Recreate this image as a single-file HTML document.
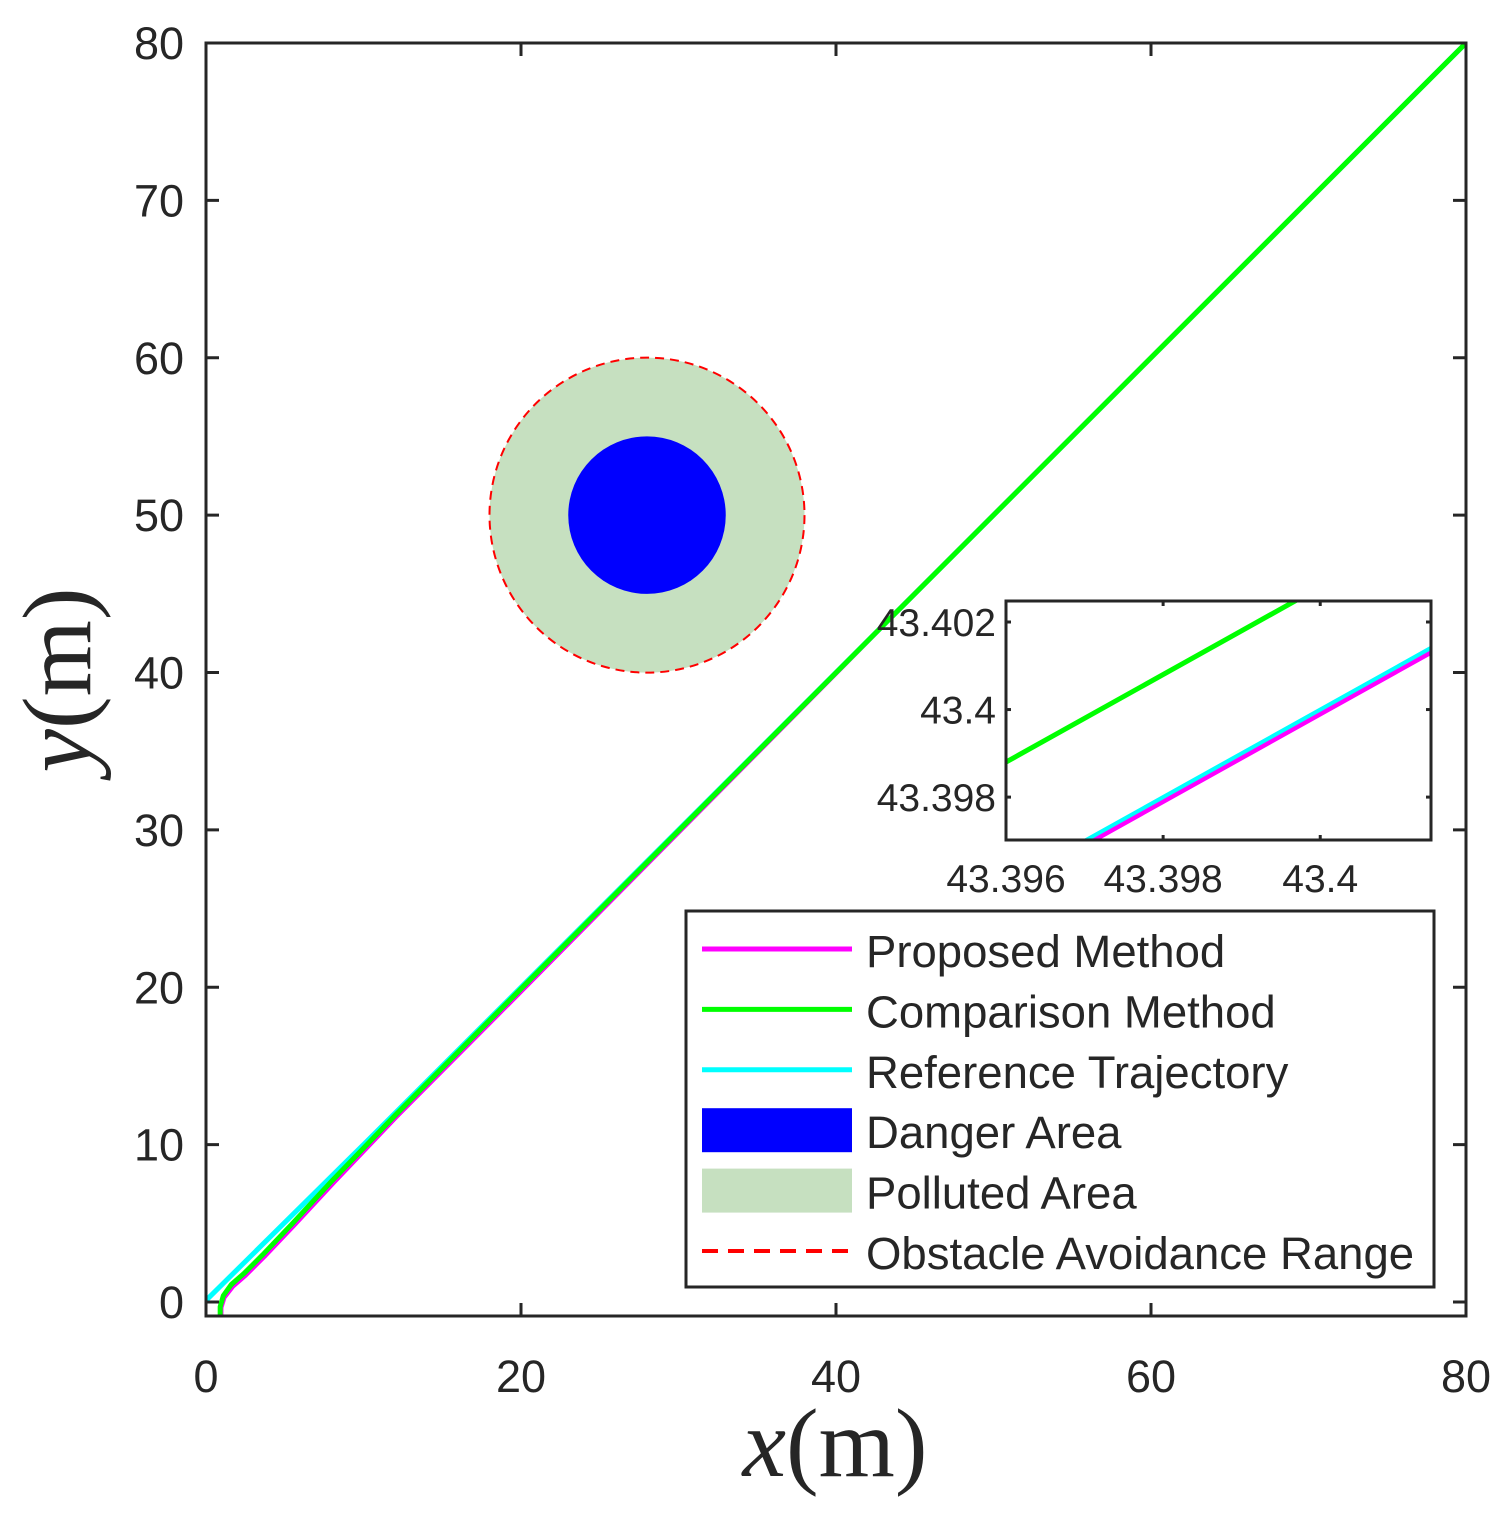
<!DOCTYPE html>
<html><head><meta charset="utf-8"><style>
html,body{margin:0;padding:0;background:#fff;overflow:hidden;width:1504px;height:1516px;}
svg{display:block;}
text{font-family:"Liberation Sans",sans-serif;fill:#262626;}
</style></head><body>
<svg id="chart" width="1504" height="1516" viewBox="0 0 1504 1516" xmlns="http://www.w3.org/2000/svg">
<g id="main"></g>
<g id="inset"></g>
<g id="legend"></g>
</svg>
<script>
const xTicks=[0,20,40,60,80];
const yTicks=[0,10,20,30,40,50,60,70,80];
const obstacleCenter=[28,50];
const pollutedRadius=[10];
const dangerRadius=[5];
const avoidRadius=[10];
const refX=[0,10,43.397,43.4016,80];
const refY=[0.1,10,43.397,43.4016,80];
const compX=[0.9,0.9,1.1,1.6,2.4,3.6,5.5,8,12,20,43.396,43.39968,80];
const compY=[-0.9,-0.3,0.4,1.1,1.8,3.0,5.0,7.7,11.85,19.9,43.3988,43.40248,80];
const propX=[0.95,0.95,1.15,1.7,2.5,3.7,5.6,8.1,12.1,20.1,43.397,43.4016,80];
const propY=[-0.9,-0.35,0.3,1.0,1.7,2.9,4.9,7.6,11.8,19.85,43.3969,43.4015,80];
const insetXTicks=[43.396,43.398,43.4];
const insetYTicks=[43.398,43.4,43.402];
const insetXRange=[43.396,43.40141];
const insetYRange=[43.39702,43.40248];
const legendLabels=["Proposed Method","Comparison Method","Reference Trajectory","Danger Area","Polluted Area","Obstacle Avoidance Range"];

const NS="http://www.w3.org/2000/svg";
function mk(parent,tag,attrs,text){const e=document.createElementNS(NS,tag);for(const k in attrs)e.setAttribute(k,attrs[k]);if(text!==undefined)e.textContent=text;parent.appendChild(e);return e;}
const X0=206,X1=1466,YT=43,YB=1316;
const sx=v=>X0+v*(X1-X0)/80;
const sy=v=>1302-v*(1302-YT)/80;
const main=document.getElementById('main');

const defs=mk(document.getElementById('chart'),'defs',{});
const cp=mk(defs,'clipPath',{id:'mclip'});mk(cp,'rect',{x:X0,y:YT,width:X1-X0,height:YB-YT});
const cp2=mk(defs,'clipPath',{id:'iclip'});mk(cp2,'rect',{x:1006,y:601,width:425,height:239});
const plot=mk(main,'g',{'clip-path':'url(#mclip)'});

let c=mk(plot,'circle',{cx:sx(obstacleCenter[0]),cy:sy(obstacleCenter[1]),r:pollutedRadius[0]*(X1-X0)/80,fill:'#c6e0c0'});


c=mk(plot,'circle',{cx:sx(obstacleCenter[0]),cy:sy(obstacleCenter[1]),r:dangerRadius[0]*(X1-X0)/80,fill:'#0000ff'});


c=mk(plot,'circle',{cx:sx(obstacleCenter[0]),cy:sy(obstacleCenter[1]),r:avoidRadius[0]*(X1-X0)/80,fill:'none',stroke:'#ff0000','stroke-width':2,'stroke-dasharray':'9,6'});



function path(xs,ys,fx,fy){return xs.map((v,i)=>(i?'L':'M')+fx(v).toFixed(2)+' '+fy(ys[i]).toFixed(2)).join(' ');}
let p=mk(plot,'path',{d:path(propX,propY,sx,sy),fill:'none',stroke:'#ff00ff','stroke-width':5,'stroke-linejoin':'round'});


p=mk(plot,'path',{d:path(refX,refY,sx,sy),fill:'none',stroke:'#00ffff','stroke-width':5});


p=mk(plot,'path',{d:path(compX,compY,sx,sy),fill:'none',stroke:'#00ff00','stroke-width':5,'stroke-linejoin':'round'});



let f=mk(main,'rect',{x:X0,y:YT,width:X1-X0,height:YB-YT,fill:'none',stroke:'#262626','stroke-width':3});


xTicks.forEach(v=>{const x=sx(v);
 mk(main,'line',{x1:x,x2:x,y1:YB,y2:YB-13,stroke:'#262626','stroke-width':3});
 mk(main,'line',{x1:x,x2:x,y1:YT,y2:YT+13,stroke:'#262626','stroke-width':3});
 const t=mk(main,'text',{x:x,y:1392,'font-size':45,'text-anchor':'middle'},String(v));
 
 });
yTicks.forEach(v=>{const y=sy(v);
 mk(main,'line',{x1:X0,x2:X0+13,y1:y,y2:y,stroke:'#262626','stroke-width':3});
 mk(main,'line',{x1:X1,x2:X1-13,y1:y,y2:y,stroke:'#262626','stroke-width':3});
 const t=mk(main,'text',{x:184,y:y+16,'font-size':45,'text-anchor':'end'},String(v));
 
 });
let xl=mk(main,'text',{x:835,y:1476,'font-size':98,'text-anchor':'middle','style':'font-family:"Liberation Serif",serif'});
xl.innerHTML='<tspan font-style="italic">x</tspan>(m)';


let yl=mk(main,'text',{x:0,y:0,'font-size':98,'text-anchor':'middle','transform':'translate(90,680) rotate(-90)','style':'font-family:"Liberation Serif",serif'});
yl.innerHTML='<tspan font-style="italic">y</tspan>(m)';



const inset=document.getElementById('inset');
const IX0=1006,IX1=1431,IYT=601,IYB=840;
const ix=v=>IX0+(v-insetXRange[0])*(IX1-IX0)/(insetXRange[1]-insetXRange[0]);
const iy=v=>IYB-(v-insetYRange[0])*(IYB-IYT)/(insetYRange[1]-insetYRange[0]);
mk(inset,'rect',{x:IX0,y:IYT,width:IX1-IX0,height:IYB-IYT,fill:'#fff'});
const ip=mk(inset,'g',{'clip-path':'url(#iclip)'});
p=mk(ip,'path',{d:path(propX,propY,ix,iy),fill:'none',stroke:'#ff00ff','stroke-width':5});


p=mk(ip,'path',{d:path(refX,refY,ix,iy),fill:'none',stroke:'#00ffff','stroke-width':4});


p=mk(ip,'path',{d:path(compX,compY,ix,iy),fill:'none',stroke:'#00ff00','stroke-width':5});


f=mk(inset,'rect',{x:IX0,y:IYT,width:IX1-IX0,height:IYB-IYT,fill:'none',stroke:'#262626','stroke-width':3});


insetXTicks.forEach(v=>{const x=ix(v);
 mk(inset,'line',{x1:x,x2:x,y1:IYB,y2:IYB-5,stroke:'#262626','stroke-width':3});
 mk(inset,'line',{x1:x,x2:x,y1:IYT,y2:IYT+5,stroke:'#262626','stroke-width':3});
 const t=mk(inset,'text',{x:x,y:892,'font-size':39,'text-anchor':'middle'},String(v));
 
 });
insetYTicks.forEach(v=>{const y=iy(v);
 mk(inset,'line',{x1:IX0,x2:IX0+5,y1:y,y2:y,stroke:'#262626','stroke-width':3});
 mk(inset,'line',{x1:IX1,x2:IX1-5,y1:y,y2:y,stroke:'#262626','stroke-width':3});
 const t=mk(inset,'text',{x:996,y:y+14,'font-size':39,'text-anchor':'end'},String(v));
 
 });

const lg=document.getElementById('legend');
f=mk(lg,'rect',{x:686,y:911,width:748,height:376,fill:'#fff',stroke:'#262626','stroke-width':3});


const sty=[{t:'line',c:'#ff00ff'},{t:'line',c:'#00ff00'},{t:'line',c:'#00ffff'},{t:'rect',c:'#0000ff'},{t:'rect',c:'#c6e0c0'},{t:'dash',c:'#ff0000'}];
legendLabels.forEach((lab,i)=>{const y=952+i*60.4;
 const g=mk(lg,'g',{});
 
 
 const s=sty[i];
 if(s.t==='line')mk(g,'line',{x1:702,x2:852,y1:y-3,y2:y-3,stroke:s.c,'stroke-width':5});
 else if(s.t==='rect')mk(g,'rect',{x:702,y:y-25,width:150,height:44,fill:s.c});
 else mk(g,'line',{x1:702,x2:852,y1:y-3,y2:y-3,stroke:s.c,'stroke-width':4,'stroke-dasharray':'16,10'});
 mk(g,'text',{x:866,y:y+15,'font-size':45.5,fill:'#000'},lab);});
</script>
</body></html>
